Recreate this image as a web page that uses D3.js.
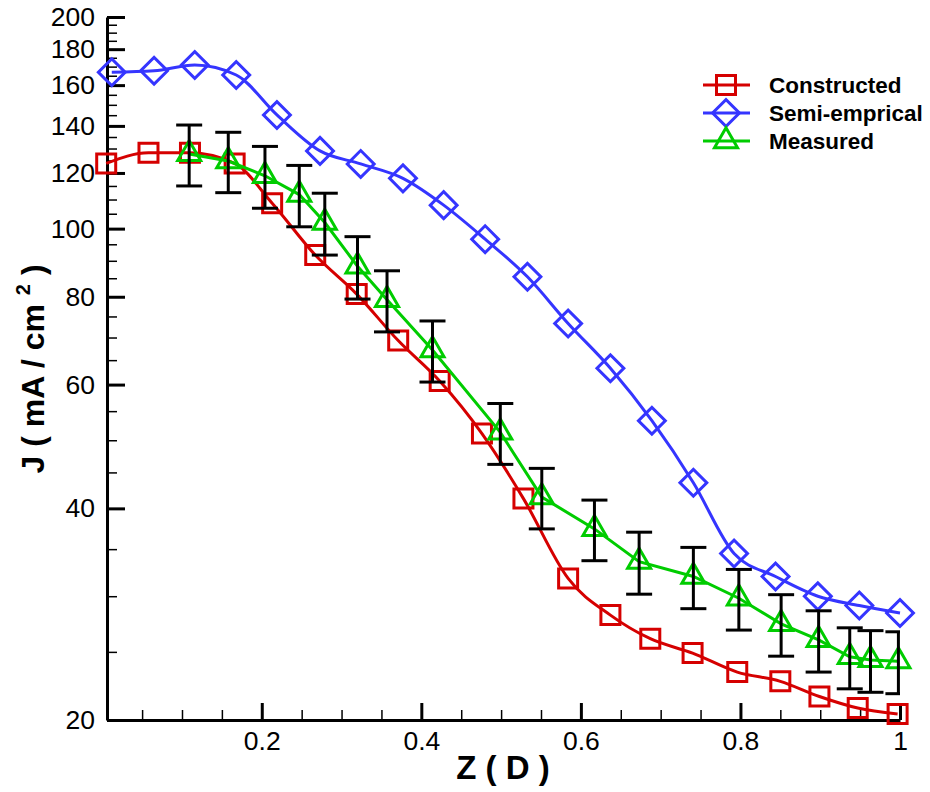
<!DOCTYPE html>
<html>
<head>
<meta charset="utf-8">
<script src="https://cdn.jsdelivr.net/npm/d3@7/dist/d3.min.js"></script>
<style>
  body { margin: 0; background: #fff; }
  svg { display: block; font-family: Arial, 'Liberation Sans', sans-serif; }
</style>
</head>
<body>
<div id="chart"></div>
<script>
// values
const constructedZ = [0.005, 0.058, 0.110, 0.166, 0.213, 0.267, 0.319, 0.371, 0.423, 0.476, 0.528, 0.584, 0.637, 0.687, 0.740, 0.796, 0.850, 0.899, 0.947, 0.997]
const constructedJ = [123.8, 128.2, 128.2, 123.8, 108.7, 91.7, 80.7, 69.3, 60.7, 51.1, 41.3, 31.8, 28.2, 26.1, 24.9, 23.4, 22.7, 21.6, 20.8, 20.4]

const semiZ = [0.012, 0.065, 0.116, 0.168, 0.219, 0.273, 0.324, 0.377, 0.428, 0.480, 0.533, 0.584, 0.637, 0.689, 0.741, 0.792, 0.844, 0.897, 0.949, 1.0]
const semiJ = [166.9, 167.7, 170.9, 165.4, 145.1, 129.0, 123.6, 117.9, 108.0, 96.6, 85.4, 73.3, 63.3, 53.3, 43.5, 34.5, 32.0, 30.0, 29.1, 28.4]

const measuredZ = [0.109, 0.158, 0.204, 0.247, 0.279, 0.320, 0.357, 0.414, 0.499, 0.551, 0.617, 0.673, 0.741, 0.798, 0.851, 0.898, 0.937, 0.963, 0.998]
const measuredJ = [127.7, 124.8, 118.9, 111.8, 102.0, 88.4, 79.2, 67.2, 51.3, 41.5, 37.4, 33.6, 32.0, 29.8, 27.4, 26.0, 24.6, 24.35, 24.25]
const measuredErr = [12.7, 12.3, 12.0, 11.2, 10.3, 9.0, 7.9, 6.7, 5.1, 4.1, 3.7, 3.4, 3.2, 2.95, 2.75, 2.6, 2.45, 2.45, 2.45]

const seriesNames = ['Constructed', 'Semi-emprical', 'Measured']

const xTicks = [0.2, 0.4, 0.6, 0.8, 1]
const xTickLabels = ['0.2', '0.4', '0.6', '0.8', '1']
const yTicks = [20, 40, 60, 80, 100, 120, 140, 160, 180, 200]

const width = 930
const height = 792
const plot = { left: 107, right: 900, top: 17, bottom: 720 }

const svg = d3.select('#chart').append('svg')
    .attr('width', width)
    .attr('height', height)

const x = d3.scaleLinear()
    .domain([0.006, 1])
    .range([plot.left, plot.right])

const y = d3.scaleLog()
    .domain([20, 200])
    .range([plot.bottom, plot.top])

const xMinor = d3.range(0.05, 1.0, 0.05).filter(v => xTicks.every(t => Math.abs(t - v) > 1e-6))
const yMinor = d3.range(25, 200, 5).filter(v => v % 20 !== 0)

// minor ticks first, then major axes on top
svg.append('g')
    .attr('transform', `translate(0, ${plot.bottom})`)
    .call(d3.axisBottom(x).tickValues(xMinor).tickSize(-10).tickSizeOuter(0).tickFormat(''))
    .call(g => g.select('.domain').remove())
    .call(g => g.selectAll('line').attr('stroke', '#000').attr('stroke-width', 1.5))

svg.append('g')
    .attr('transform', `translate(${plot.left}, 0)`)
    .call(d3.axisLeft(y).tickValues(yMinor).tickSize(-10).tickSizeOuter(0).tickFormat(''))
    .call(g => g.select('.domain').remove())
    .call(g => g.selectAll('line').attr('stroke', '#000').attr('stroke-width', 1.5))

const xAxis = svg.append('g')
    .attr('transform', `translate(0, ${plot.bottom})`)
    .call(d3.axisBottom(x)
      .tickValues(xTicks)
      .tickFormat((d, i) => xTickLabels[i])
      .tickSize(-17)
      .tickSizeOuter(0)
      .tickPadding(11))

const yAxis = svg.append('g')
    .attr('transform', `translate(${plot.left}, 0)`)
    .call(d3.axisLeft(y)
      .tickValues(yTicks)
      .tickFormat(d3.format('d'))
      .tickSize(-18)
      .tickSizeOuter(0)
      .tickPadding(12))

;[xAxis, yAxis].forEach(ax => {
  ax.select('.domain').attr('stroke', '#000').attr('stroke-width', 3)
  ax.selectAll('.tick line').attr('stroke', '#000').attr('stroke-width', 3)
  ax.selectAll('.tick text')
      .attr('fill', '#000')
      .attr('font-size', 26.5)
      .attr('font-family', 'Arial, Liberation Sans, sans-serif')
})

// axis titles
svg.append('text')
    .attr('x', 503)
    .attr('y', 779)
    .attr('text-anchor', 'middle')
    .attr('font-size', 33)
    .attr('font-weight', 'bold')
    .text('Z ( D )')

const yTitle = svg.append('text')
    .attr('transform', 'translate(44, 369) rotate(-90)')
    .attr('text-anchor', 'middle')
    .attr('font-size', 32)
    .attr('font-weight', 'bold')
yTitle.append('tspan').text('J ( mA / cm ')
yTitle.append('tspan').attr('font-size', 20).attr('dy', -14).text('2')
yTitle.append('tspan').attr('dy', 14).text(' )')

const colors = ['#d50000', '#3535ff', '#00cc00']

const symbols = [
  d3.symbol().type(d3.symbolSquare).size(361),
  d3.symbol().type(d3.symbolSquare).size(361),
  d3.symbol().type(d3.symbolTriangle).size(230)
]
const rotations = [0, 45, 0]

const series = [
  { z: constructedZ, j: constructedJ, curve: d3.curveMonotoneX },
  { z: semiZ, j: semiJ, curve: d3.curveMonotoneX },
  { z: measuredZ, j: measuredJ, curve: d3.curveLinear }
]

series.forEach((s, i) => {
  const pts = s.z.map((z, k) => [z, s.j[k]])
  const line = d3.line()
      .x(d => x(d[0]))
      .y(d => y(d[1]))
      .curve(s.curve)

  svg.append('path')
      .datum(pts)
      .attr('d', line)
      .attr('fill', 'none')
      .attr('stroke', colors[i])
      .attr('stroke-width', 3)

  svg.append('g').selectAll('path')
      .data(pts).enter()
    .append('path')
      .attr('d', symbols[i])
      .attr('transform', d => `translate(${x(d[0])}, ${y(d[1])}) rotate(${rotations[i]})`)
      .attr('fill', 'none')
      .attr('stroke', colors[i])
      .attr('stroke-width', 3)
})

// error bars on the measured series, clipped to the plot frame
svg.append('clipPath')
    .attr('id', 'plot-clip')
  .append('rect')
    .attr('x', plot.left)
    .attr('y', plot.top)
    .attr('width', plot.right - plot.left)
    .attr('height', plot.bottom - plot.top)

const capHalf = 13
const errG = svg.append('g')
    .attr('clip-path', 'url(#plot-clip)')
    .attr('stroke', '#000')
    .attr('stroke-width', 3)

measuredZ.forEach((z, k) => {
  const cx = x(z)
  const top = y(measuredJ[k] + measuredErr[k])
  const bot = y(measuredJ[k] - measuredErr[k])
  errG.append('line').attr('x1', cx).attr('x2', cx).attr('y1', top).attr('y2', bot)
  errG.append('line').attr('x1', cx - capHalf).attr('x2', cx + capHalf).attr('y1', top).attr('y2', top)
  errG.append('line').attr('x1', cx - capHalf).attr('x2', cx + capHalf).attr('y1', bot).attr('y2', bot)
})

// legend
const legend = svg.append('g')
    .attr('transform', 'translate(703, 85)')

seriesNames.forEach((name, i) => {
  const row = legend.append('g')
      .attr('transform', `translate(0, ${i * 28})`)
  row.append('line')
      .attr('x1', 0)
      .attr('x2', 47)
      .attr('stroke', colors[i])
      .attr('stroke-width', 3)
  row.append('path')
      .attr('d', symbols[i])
      .attr('transform', `translate(23, 0) rotate(${rotations[i]})`)
      .attr('fill', 'none')
      .attr('stroke', colors[i])
      .attr('stroke-width', 3)
  row.append('text')
      .attr('x', 66)
      .attr('y', 8)
      .attr('font-size', 22.5)
      .attr('font-weight', 'bold')
      .attr('fill', '#000')
      .text(name)
})
</script>
</body>
</html>
